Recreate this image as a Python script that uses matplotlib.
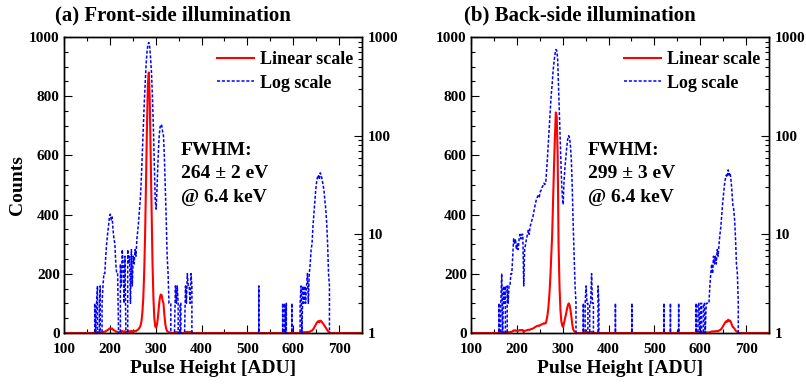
import numpy as np
import matplotlib
matplotlib.use('Agg')
import matplotlib.pyplot as plt
from matplotlib.ticker import MultipleLocator, LogLocator, NullFormatter, FuncFormatter

plt.rcParams['font.family'] = ['Liberation Serif', 'DejaVu Serif']
plt.rcParams['font.weight'] = 'bold'
plt.rcParams['axes.labelweight'] = 'bold'

# histogram: 2 ADU bins from 100 to 750, given as (first bin edge, counts) runs
bin_width = 2
x_min, x_max = 100, 750

front_main = [2, 1, 2, 3, 0, 2, 3, 0, 2, 3, 4, 4, 6, 8, 10, 12, 15, 16, 14, 15,
              11, 9, 8, 5, 4, 4, 1, 0, 5, 3, 7, 5, 2, 6, 1, 0, 7, 5, 6, 2,
              7, 3, 6, 5, 7, 6, 9, 11, 14, 19, 25, 40, 70, 120, 210, 340, 520, 700, 840, 880,
              790, 600, 420, 240, 120, 50, 22, 18, 30, 55, 90, 118, 130, 128, 110, 100, 60, 30,
              14, 6, 4, 2]
front_spikes = [2, 2, 0, 0, 0, 1, 3, 2, 3, 2, 0, 2, 2, 0, 0, 0, 1, 3, 2, 4,
                3, 3, 2, 4, 3, 0]
front_k = [2, 0, 2, 1, 2, 0, 0, 0, 0, 0, 2, 0, 0, 0, 0, 0, 0, 0, 0, 2,
           3, 1, 3, 2, 3, 2, 3, 4, 2, 4, 5, 7, 8, 12, 16, 22, 28, 34, 38, 40,
           36, 42, 40, 36, 32, 28, 22, 18, 13, 8, 4, 3, 0]
front_runs = [(166, front_main), (330, front_spikes), (524, [3]), (576, front_k)]

back_main = [2, 0, 2, 4, 1, 3, 2, 3, 0, 3, 2, 3, 3, 4, 4, 6, 9, 8, 9, 7,
             8, 7, 9, 10, 9, 10, 10, 3, 7, 8, 9, 10, 11, 10, 12, 13, 14, 15, 17, 19,
             21, 23, 24, 25, 24, 27, 28, 30, 31, 33, 32, 33, 45, 62, 90, 130, 185, 260, 330, 450,
             560, 660, 745, 730, 600, 300, 160, 80, 40, 25, 20, 35, 48, 62, 78, 92, 100, 95, 78, 55,
             28, 12, 6, 3, 2]
back_spikes = [2, 0, 2, 3, 2, 2, 0, 2, 2, 4, 2, 2, 0, 0, 0, 0, 3, 2]
back_k = [2, 0, 2, 2, 1, 2, 2, 0, 2, 2, 1, 2, 2, 2, 2, 3, 4, 5, 4, 6,
          5, 6, 5, 7, 6, 8, 10, 12, 16, 21, 26, 32, 37, 40, 38, 45, 40, 42, 36, 28,
          20, 18, 14, 9, 5, 4, 2, 0]
back_runs = [(160, back_main), (344, back_spikes), (414, [2]), (450, [2]),
             (520, [2]), (534, [2]), (552, [2]), (590, back_k)]

titles = ['(a) Front-side illumination', '(b) Back-side illumination']
fwhm = ['264 \u00b1 2 eV', '299 \u00b1 3 eV']


def histogram(runs):
    edges = np.arange(x_min, x_max, bin_width)
    counts = np.zeros(len(edges))
    for start, vals in runs:
        i = (start - x_min) // bin_width
        counts[i:i + len(vals)] = vals
    return edges + bin_width / 2, counts


fig = plt.figure(figsize=(8.06, 3.85), dpi=100)
lefts = [64 / 806, 471 / 806]

for k, runs in enumerate([front_runs, back_runs]):
    x, y = histogram(runs)
    ax = fig.add_axes([lefts[k], 52 / 385, 298 / 806, 296 / 385])
    axl = ax.twinx()

    l1, = ax.plot(x, y, color='red', lw=1.5, label='Linear scale', zorder=3)
    l2, = axl.plot(x, y, color='blue', lw=1.1, dashes=(2.0, 1.2), label='Log scale')

    ax.set_xlim(x_min, x_max)
    ax.set_ylim(0, 1000)
    axl.set_yscale('log')
    axl.set_ylim(1, 1000)

    ax.xaxis.set_major_locator(MultipleLocator(100))
    ax.xaxis.set_minor_locator(MultipleLocator(50))
    ax.yaxis.set_major_locator(MultipleLocator(200))
    ax.yaxis.set_minor_locator(MultipleLocator(50))
    axl.yaxis.set_major_locator(LogLocator(base=10))
    axl.yaxis.set_minor_locator(LogLocator(base=10, subs=np.arange(2, 10)))
    axl.yaxis.set_minor_formatter(NullFormatter())
    axl.yaxis.set_major_formatter(FuncFormatter(lambda v, p: f'{v:g}'))

    ax.tick_params(which='both', direction='in', top=True, right=False,
                   labelsize=11, width=0.8)
    ax.tick_params(which='major', length=6)
    ax.tick_params(which='minor', length=3)
    ax.tick_params(axis='x', pad=7)
    ax.tick_params(axis='y', pad=3)
    axl.tick_params(which='both', direction='in', labelsize=11, width=0.8, pad=4)
    axl.tick_params(which='major', length=6)
    axl.tick_params(which='minor', length=3)

    for sp in list(ax.spines.values()) + list(axl.spines.values()):
        sp.set_linewidth(1.0)

    ax.set_xlabel('Pulse Height [ADU]', fontsize=14, labelpad=3)
    if k == 0:
        ax.set_ylabel('Counts', fontsize=14, labelpad=2)

    axl.legend([l1, l2], ['Linear scale', 'Log scale'], loc='upper left',
               bbox_to_anchor=(0.515, 0.953), frameon=False, fontsize=13,
               handlelength=2.0, handletextpad=0.35, labelspacing=0.38,
               borderpad=0, borderaxespad=0)

    ax.text(0.392, 0.601, 'FWHM:', transform=ax.transAxes, fontsize=14, va='baseline')
    ax.text(0.392, 0.523, fwhm[k], transform=ax.transAxes, fontsize=14, va='baseline')
    ax.text(0.392, 0.444, '@ 6.4 keV', transform=ax.transAxes, fontsize=14, va='baseline')

    fig.text(lefts[k] + 0.1355, 1 - 20 / 385, titles[k], fontsize=15,
             ha='center', va='baseline')

fig.savefig('out.png', dpi=100)
